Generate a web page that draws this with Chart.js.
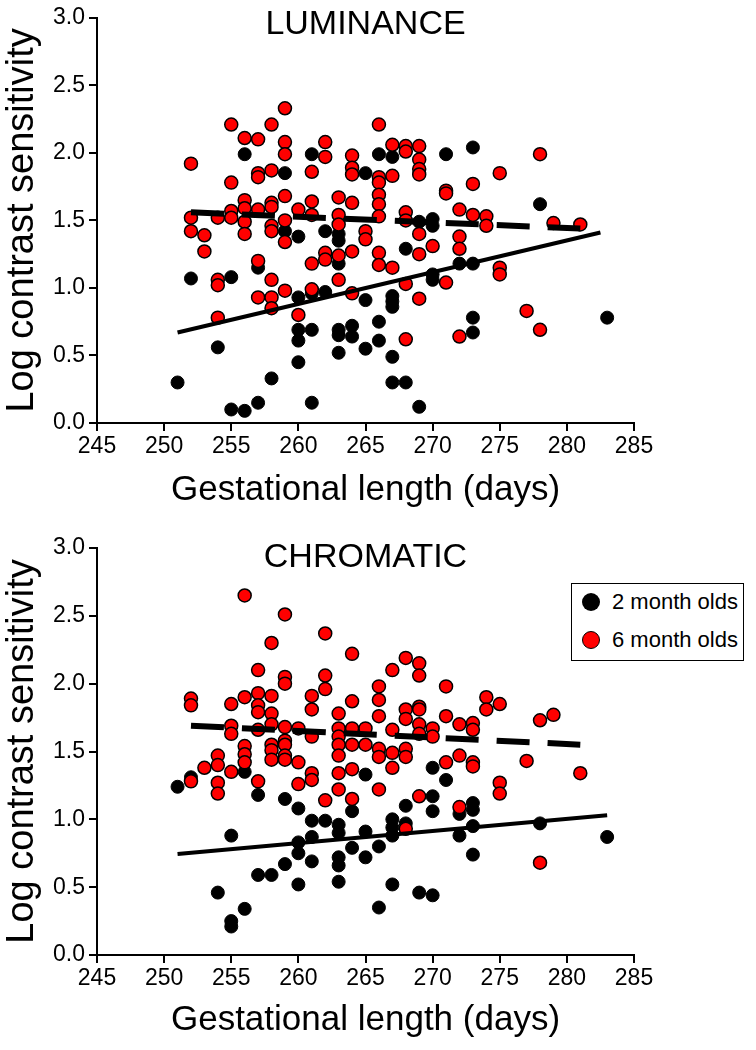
<!DOCTYPE html>
<html>
<head>
<meta charset="utf-8">
<script src="https://cdn.jsdelivr.net/npm/chart.js@4.4.1/dist/chart.umd.min.js"></script>
<style>
  body { margin: 0; background: #fff; font-family: "Liberation Sans", Arial, sans-serif; }
  #wrap { position: relative; width: 756px; height: 1050px; }
  canvas { position: absolute; left: 0; }
  .title { position: absolute; left: 97px; width: 537px; text-align: center; font-size: 34px; line-height: 34px; color: #000; }
  #legend { position: absolute; left: 571px; top: 583px; width: 171px; height: 76px; border: 1.5px solid #000; background: #fff; }
  .row { position: absolute; left: 0; height: 24px; font-size: 22px; line-height: 24px; white-space: nowrap; }
  .dot { position: absolute; left: 10px; top: 3px; width: 18px; height: 18px; border-radius: 50%; box-sizing: border-box; }
  .row span { position: absolute; left: 40px; top: 0; }
</style>
</head>
<body>
<div id="wrap">
  <canvas id="lum" width="756" height="525" style="top:0"></canvas>
  <canvas id="chrom" width="756" height="525" style="top:525px"></canvas>
  <div class="title" style="top:5px">LUMINANCE</div>
  <div class="title" style="top:538px">CHROMATIC</div>
  <div id="legend">
    <div class="row" style="top:6px"><div class="dot" style="background:#000"></div><span>2 month olds</span></div>
    <div class="row" style="top:44px"><div class="dot" style="background:#ff0000;border:1.5px solid #000"></div><span>6 month olds</span></div>
  </div>
</div>
<script>
const xTicks = [245, 250, 255, 260, 265, 270, 275, 280, 285];
const yTicks = [0, 0.5, 1.0, 1.5, 2.0, 2.5, 3.0];

// LUMINANCE: [gestational length, log contrast sensitivity]
const lum2mo = [
  [256,1.99],[261,1.99],[259,1.85],[259,1.42],[260,1.38],[262,1.42],[266,1.99],[267,1.97],
  [271,1.99],[273,2.04],[265,1.85],[263,1.40],[263,1.35],[269,1.49],[270,1.51],[270,1.46],
  [268,1.29],[278,1.62],[252,1.07],[255,1.08],[257,1.15],[260,0.93],[261,0.96],[262,0.97],
  [260,0.69],[261,0.69],[260,0.61],[254,0.56],[260,0.45],[251,0.30],[258,0.33],[257,0.15],
  [255,0.10],[256,0.09],[261,0.15],[263,1.18],[265,0.91],[267,0.94],[267,0.90],[267,0.86],
  [270,1.10],[270,1.06],[272,1.18],[273,1.18],[263,0.69],[263,0.65],[264,0.72],[264,0.64],
  [266,0.75],[266,0.61],[263,0.52],[265,0.55],[267,0.49],[267,0.30],[268,0.30],[269,0.12],
  [273,0.78],[273,0.67],[283,0.78]
];
const lum6mo = [
  [259,2.33],[255,2.21],[258,2.21],[256,2.11],[257,2.10],[259,2.08],[262,2.08],[259,1.99],
  [262,1.97],[252,1.92],[257,1.85],[257,1.82],[258,1.87],[261,1.86],[255,1.78],[256,1.65],
  [256,1.59],[257,1.58],[258,1.63],[258,1.60],[259,1.68],[261,1.64],[260,1.58],[261,1.54],
  [255,1.57],[255,1.52],[252,1.52],[254,1.52],[252,1.42],[253,1.39],[253,1.27],[256,1.49],
  [256,1.40],[258,1.46],[258,1.42],[259,1.50],[259,1.34],[262,1.26],[257,1.20],
  [266,2.21],[264,1.98],[267,2.06],[268,2.05],[268,2.01],[269,2.05],[269,1.95],[269,1.88],
  [269,1.84],[264,1.89],[264,1.84],[266,1.82],[266,1.78],[266,1.69],[266,1.62],[266,1.53],
  [267,1.83],[271,1.72],[271,1.70],[273,1.77],[263,1.67],[264,1.63],[263,1.54],[263,1.47],
  [265,1.42],[265,1.36],[268,1.56],[268,1.50],[269,1.40],[270,1.31],[269,1.25],[272,1.58],
  [273,1.54],[274,1.53],[274,1.46],[272,1.38],[272,1.29],[264,1.27],[266,1.26],[263,1.24],
  [278,1.99],[275,1.85],[279,1.48],[281,1.47],
  [254,1.06],[254,1.02],[258,1.06],[259,0.98],[257,0.93],[258,0.93],[258,0.85],[261,1.18],
  [262,1.21],[261,0.99],[260,0.80],[254,0.78],
  [266,1.17],[267,1.15],[263,1.06],[264,0.96],[268,1.03],[269,0.92],[271,1.04],[268,0.62],
  [272,0.64],[275,1.15],[275,1.10],[277,0.83],[278,0.69]
];
const lumFit2mo = [[251,0.67],[282.5,1.41]];
const lumFit6mo = [[252,1.56],[281,1.44]];

// CHROMATIC
const chrom2mo = [
  [256,1.35],[252,1.31],[251,1.24],[257,1.18],[259,1.15],[260,1.08],[261,0.99],[262,0.99],
  [255,0.88],[260,0.83],[260,0.75],[261,0.87],[261,0.69],[259,0.67],[257,0.59],[258,0.59],
  [260,0.52],[254,0.46],[256,0.34],[255,0.25],[255,0.21],
  [265,1.33],[264,1.06],[263,0.96],[263,0.90],[265,0.91],[267,1.00],[267,0.94],[267,0.88],
  [268,0.97],[268,1.10],[270,1.17],[270,1.06],[270,1.38],[271,1.29],[272,1.04],[273,1.12],
  [273,1.07],[273,0.95],[272,0.88],[273,0.74],[264,0.79],[265,0.72],[266,0.80],[263,0.72],
  [263,0.66],[263,0.54],[267,0.52],[269,0.46],[270,0.44],[266,0.35],[278,0.97],[283,0.87]
];
const chrom6mo = [
  [256,2.65],[259,2.51],[262,2.37],[258,2.30],[257,2.10],[259,2.05],[259,2.00],[262,2.06],
  [262,1.96],[252,1.89],[252,1.84],[255,1.85],[256,1.90],[257,1.93],[257,1.84],[257,1.79],
  [258,1.91],[258,1.78],[258,1.70],[259,1.68],[260,1.67],[261,1.91],[261,1.81],[255,1.69],
  [255,1.63],[257,1.66],[259,1.58],[261,1.61],
  [264,2.22],[268,2.19],[269,2.15],[269,2.06],[267,2.10],[266,1.98],[266,1.88],[266,1.76],
  [264,1.87],[263,1.78],[263,1.67],[263,1.61],[264,1.67],[265,1.67],[267,1.66],[268,1.81],
  [268,1.74],[269,1.83],[269,1.81],[269,1.70],[269,1.63],[270,1.67],[270,1.61],[271,1.98],
  [271,1.76],[272,1.70],[273,1.71],[273,1.66],[274,1.90],[274,1.81],
  [275,1.85],[278,1.73],[279,1.77],
  [256,1.54],[256,1.48],[256,1.42],[254,1.47],[254,1.40],[253,1.38],[252,1.28],[255,1.35],
  [254,1.27],[254,1.19],[257,1.28],[258,1.55],[258,1.51],[258,1.44],[259,1.55],[259,1.47],
  [259,1.44],[260,1.42],[261,1.34],[261,1.29],[260,1.26],[262,1.14],
  [263,1.55],[263,1.47],[264,1.55],[265,1.55],[266,1.52],[266,1.46],[267,1.49],[267,1.38],
  [268,1.52],[268,1.46],[263,1.34],[264,1.37],[263,1.22],[266,1.22],[264,1.15],[268,0.93],
  [269,1.17],[271,1.42],[272,1.47],[273,1.42],[273,1.39],[272,1.09],
  [277,1.43],[281,1.34],[275,1.27],[275,1.19],[278,0.68]
];
const chromFit2mo = [[251,0.745],[283,1.03]];
const chromFit6mo = [[252,1.69],[281,1.55]];

const FONT = "'Liberation Sans', Arial, sans-serif";
const toXY = arr => arr.map(p => ({ x: p[0], y: p[1] }));

function makeChart(id, pts2, pts6, fit2, fit6, padTop, axisH, titlePad) {
  return new Chart(document.getElementById(id), {
    type: "scatter",
    data: {
      datasets: [
        { type: "line", data: toXY(fit6), borderColor: "#000", borderWidth: 6,
          borderDash: [33, 18], borderCapStyle: "butt", pointRadius: 0, order: 0 },
        { type: "line", data: toXY(fit2), borderColor: "#000", borderWidth: 4,
          pointRadius: 0, order: 0 },
        { label: "6 month olds", data: toXY(pts6), backgroundColor: "#ff0000",
          borderColor: "#000", borderWidth: 1.5, pointRadius: 6.5, order: 1 },
        { label: "2 month olds", data: toXY(pts2), backgroundColor: "#000",
          borderColor: "#000", borderWidth: 1, pointRadius: 6.5, order: 2 },
      ],
    },
    options: {
      responsive: false,
      animation: false,
      layout: { padding: { left: 0, right: 122, top: padTop, bottom: 0 } },
      plugins: { legend: { display: false }, tooltip: { enabled: false } },
      scales: {
        x: {
          type: "linear", min: 245, max: 285,
          afterBuildTicks: s => { s.ticks = xTicks.map(v => ({ value: v })); },
          afterFit: s => { s.height = axisH; },
          grid: { drawOnChartArea: false, color: "#000", lineWidth: 2, tickLength: 8 },
          border: { color: "#000", width: 2 },
          ticks: { color: "#000", font: { family: FONT, size: 23 }, padding: 2,
                   maxRotation: 0, autoSkip: false },
          title: { display: true, text: "Gestational length (days)", color: "#000",
                   font: { family: FONT, size: 35 }, padding: { top: 0, bottom: titlePad } },
        },
        y: {
          type: "linear", min: 0, max: 3,
          afterBuildTicks: s => { s.ticks = yTicks.map(v => ({ value: v })); },
          afterFit: s => { s.width = 97; },
          grid: { drawOnChartArea: false, color: "#000", lineWidth: 2, tickLength: 8 },
          border: { color: "#000", width: 2 },
          ticks: { color: "#000", font: { family: FONT, size: 23 }, padding: 4,
                   callback: v => v.toFixed(1) },
          title: { display: true, text: "Log contrast sensitivity", color: "#000",
                   font: { family: FONT, size: 38 }, padding: { top: 0, bottom: 0 } },
        },
      },
    },
  });
}

makeChart("lum", lum2mo, lum6mo, lumFit2mo, lumFit6mo, 17, 102, 14);
makeChart("chrom", chrom2mo, chrom6mo, chromFit2mo, chromFit6mo, 23, 95, 9);
</script>
</body>
</html>
